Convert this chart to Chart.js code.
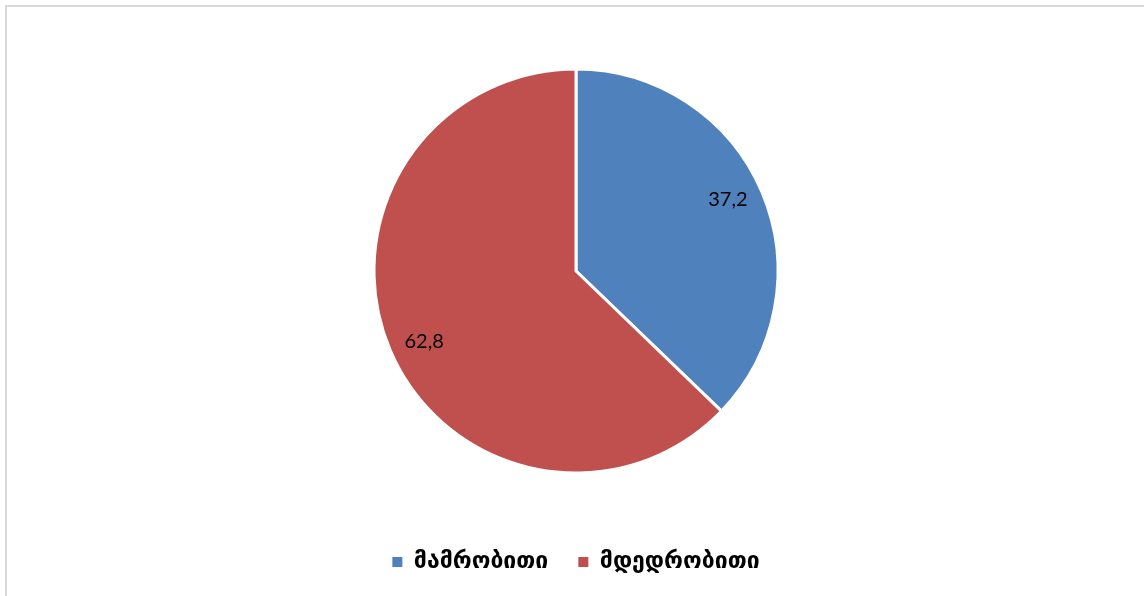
<!DOCTYPE html>
<html lang="ka">
<head>
    <meta charset="UTF-8">
    <title>Pie</title>
    <script src="https://cdn.jsdelivr.net/npm/chart.js"></script>
    <style>
        html, body { margin: 0; padding: 0; background: #fff; overflow: hidden; }
        .frame {
            position: absolute; left: 5px; top: 5px;
            width: 1200px; height: 700px;
            border: 2px solid #d9d9d9;
        }
        .chart-container { position: absolute; left: 0; top: 0; width: 1144px; height: 596px; }
    </style>
</head>
<body>

<div class="frame"></div>
<div class="chart-container">
    <canvas id="pieChart"></canvas>
</div>

<script>
    // données
    var labels = ['მამრობითი', 'მდედრობითი'];
    var values = [37.2, 62.8];
    var colors = ['#4f81bd', '#c0504d'];

    // étiquettes de valeur dans les parts
    var valueLabels = {
        id: 'valueLabels',
        afterDatasetsDraw: function(chart) {
            var ctx = chart.ctx;
            var meta = chart.getDatasetMeta(0);
            ctx.save();
            ctx.font = '20px Lato';
            ctx.fillStyle = '#000';
            ctx.textAlign = 'center';
            ctx.textBaseline = 'middle';
            meta.data.forEach(function(arc, i) {
                var p = arc.getProps(['x', 'y', 'startAngle', 'endAngle', 'outerRadius'], true);
                var mid = (p.startAngle + p.endAngle) / 2 - 0.035;
                var r = p.outerRadius * 0.83;
                var txt = values[i].toFixed(1).replace('.', ',');
                ctx.fillText(txt, p.x + Math.cos(mid) * r, p.y + Math.sin(mid) * r);
            });
            ctx.restore();
        }
    };

    var ctx = document.getElementById('pieChart').getContext('2d');
    var myChart = new Chart(ctx, {
        type: 'pie',
        data: {
            labels: labels,
            datasets: [{
                data: values,
                backgroundColor: colors,
                borderColor: '#fff',
                borderWidth: 3,
                radius: 202
            }]
        },
        options: {
            responsive: true,
            maintainAspectRatio: false,
            animation: false,
            layout: { padding: { top: 21.5, bottom: 12.5, left: 8, right: 0 } },
            plugins: {
                tooltip: { enabled: false },
                legend: {
                    position: 'bottom',
                    labels: {
                        boxWidth: 10,
                        boxHeight: 10,
                        padding: 30,
                        color: '#000',
                        font: { family: 'DejaVu Sans', size: 23, weight: 'bold' },
                        generateLabels: function(chart) {
                            var items = Chart.overrides.pie.plugins.legend.labels.generateLabels(chart);
                            items.forEach(function(it) { it.lineWidth = 0; });
                            return items;
                        }
                    }
                }
            }
        },
        plugins: [valueLabels]
    });
</script>

</body>
</html>
